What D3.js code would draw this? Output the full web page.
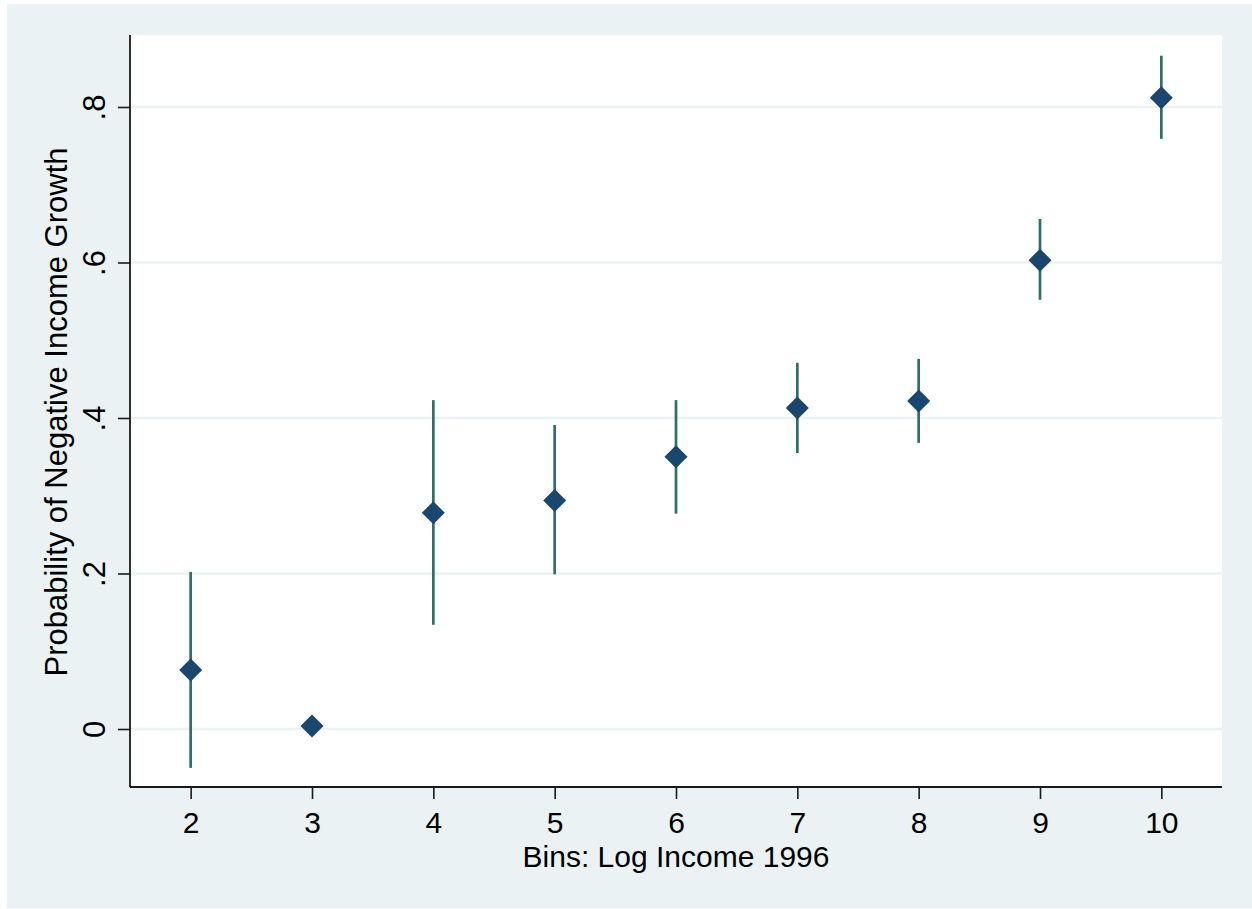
<!DOCTYPE html>
<html>
<head>
<meta charset="utf-8">
<script src="https://cdn.jsdelivr.net/npm/d3@7"></script>
<style>
  html, body { margin: 0; padding: 0; background: #ffffff; }
  svg { display: block; }
  text { font-family: "Liberation Sans", Arial, sans-serif; fill: #000; }
</style>
</head>
<body>
<svg id="chart" width="1252" height="909"></svg>
<script>
// ---- Data ----
const bins = [2, 3, 4, 5, 6, 7, 8, 9, 10];
const prob = [0.076, 0.004, 0.278, 0.294, 0.350, 0.413, 0.422, 0.603, 0.812];
const ciLow = [-0.050, 0.004, 0.134, 0.199, 0.277, 0.355, 0.368, 0.552, 0.759];
const ciHigh = [0.202, 0.004, 0.423, 0.391, 0.423, 0.471, 0.476, 0.656, 0.866];
const xTicks = [2, 3, 4, 5, 6, 7, 8, 9, 10];
const yTicks = [0, 0.2, 0.4, 0.6, 0.8];
const yTickLabels = ["0", ".2", ".4", ".6", ".8"];
const xTitle = "Bins: Log Income 1996";
const yTitle = "Probability of Negative Income Growth";

const svg = d3.select("#chart");
const W = 1252, H = 909;
const plot = { left: 130, right: 1222, top: 35, bottom: 787 };
const FONT = "Liberation Sans, Arial, sans-serif";

// outer graph region
svg.append("rect").attr("x", 7).attr("y", 4).attr("width", W - 7).attr("height", H - 5)
  .attr("fill", "#EAF2F3");
// plot region
svg.append("rect").attr("x", plot.left).attr("y", plot.top)
  .attr("width", plot.right - plot.left).attr("height", plot.bottom - plot.top)
  .attr("fill", "#ffffff");

const x = d3.scaleLinear().domain([1.5, 10.5]).range([plot.left, plot.right]);
const y = d3.scaleLinear().domain([-0.0746, 0.8926]).range([plot.bottom, plot.top]);

// gridlines
svg.append("g").selectAll("line").data(yTicks).join("line")
  .attr("x1", plot.left).attr("x2", plot.right)
  .attr("y1", d => y(d)).attr("y2", d => y(d))
  .attr("stroke", "#EAF2F3").attr("stroke-width", 2.6);

// axes
const xAxis = d3.axisBottom(x).tickValues(xTicks).tickSize(12).tickFormat(d3.format("d"));
const gx = svg.append("g").attr("transform", `translate(0,${plot.bottom})`).call(xAxis);
gx.select(".domain").attr("stroke", "#1a1a1a").attr("stroke-width", 1.8)
  .attr("d", `M${plot.left},0H${plot.right}`);
gx.selectAll(".tick line").attr("stroke", "#1a1a1a").attr("stroke-width", 1.6);
gx.selectAll(".tick text").attr("font-size", 30).attr("font-family", FONT)
  .attr("fill", "#000").attr("y", 46).attr("dy", null);

const yAxis = d3.axisLeft(y).tickValues(yTicks).tickSize(12)
  .tickFormat((d, i) => yTickLabels[i]);
const gy = svg.append("g").attr("transform", `translate(${plot.left},0)`).call(yAxis);
gy.select(".domain").attr("stroke", "#1a1a1a").attr("stroke-width", 1.8)
  .attr("d", `M0,${plot.top}V${plot.bottom}`);
gy.selectAll(".tick line").attr("stroke", "#1a1a1a").attr("stroke-width", 1.6);
gy.selectAll(".tick text")
  .attr("font-size", 31).attr("font-family", FONT).attr("fill", "#000")
  .attr("x", null).attr("dy", null).attr("y", null)
  .attr("text-anchor", "middle")
  .attr("transform", "translate(-25.5,0) rotate(-90)");

// axis titles
svg.append("text").attr("x", (plot.left + plot.right) / 2).attr("y", 867)
  .attr("text-anchor", "middle").attr("font-size", 30).text(xTitle);
svg.append("text")
  .attr("transform", `translate(67,${(plot.top + plot.bottom) / 2 + 1}) rotate(-90)`)
  .attr("text-anchor", "middle").attr("font-size", 31).text(yTitle);

// error bars
const data = bins.map((b, i) => ({ b, p: prob[i], lo: ciLow[i], hi: ciHigh[i] }));
svg.append("g").selectAll("line").data(data.filter(d => d.hi > d.lo)).join("line")
  .attr("x1", d => x(d.b)).attr("x2", d => x(d.b))
  .attr("y1", d => y(d.lo)).attr("y2", d => y(d.hi))
  .attr("stroke", "#2F6F66").attr("stroke-width", 2.7);

// diamonds
const diamond = d3.symbol().type(d3.symbolSquare).size(2 * 11.5 * 11.5);
svg.append("g").selectAll("path").data(data).join("path")
  .attr("transform", d => `translate(${x(d.b)},${y(d.p)}) rotate(45)`)
  .attr("d", diamond)
  .attr("fill", "#1A476F");
</script>
</body>
</html>
